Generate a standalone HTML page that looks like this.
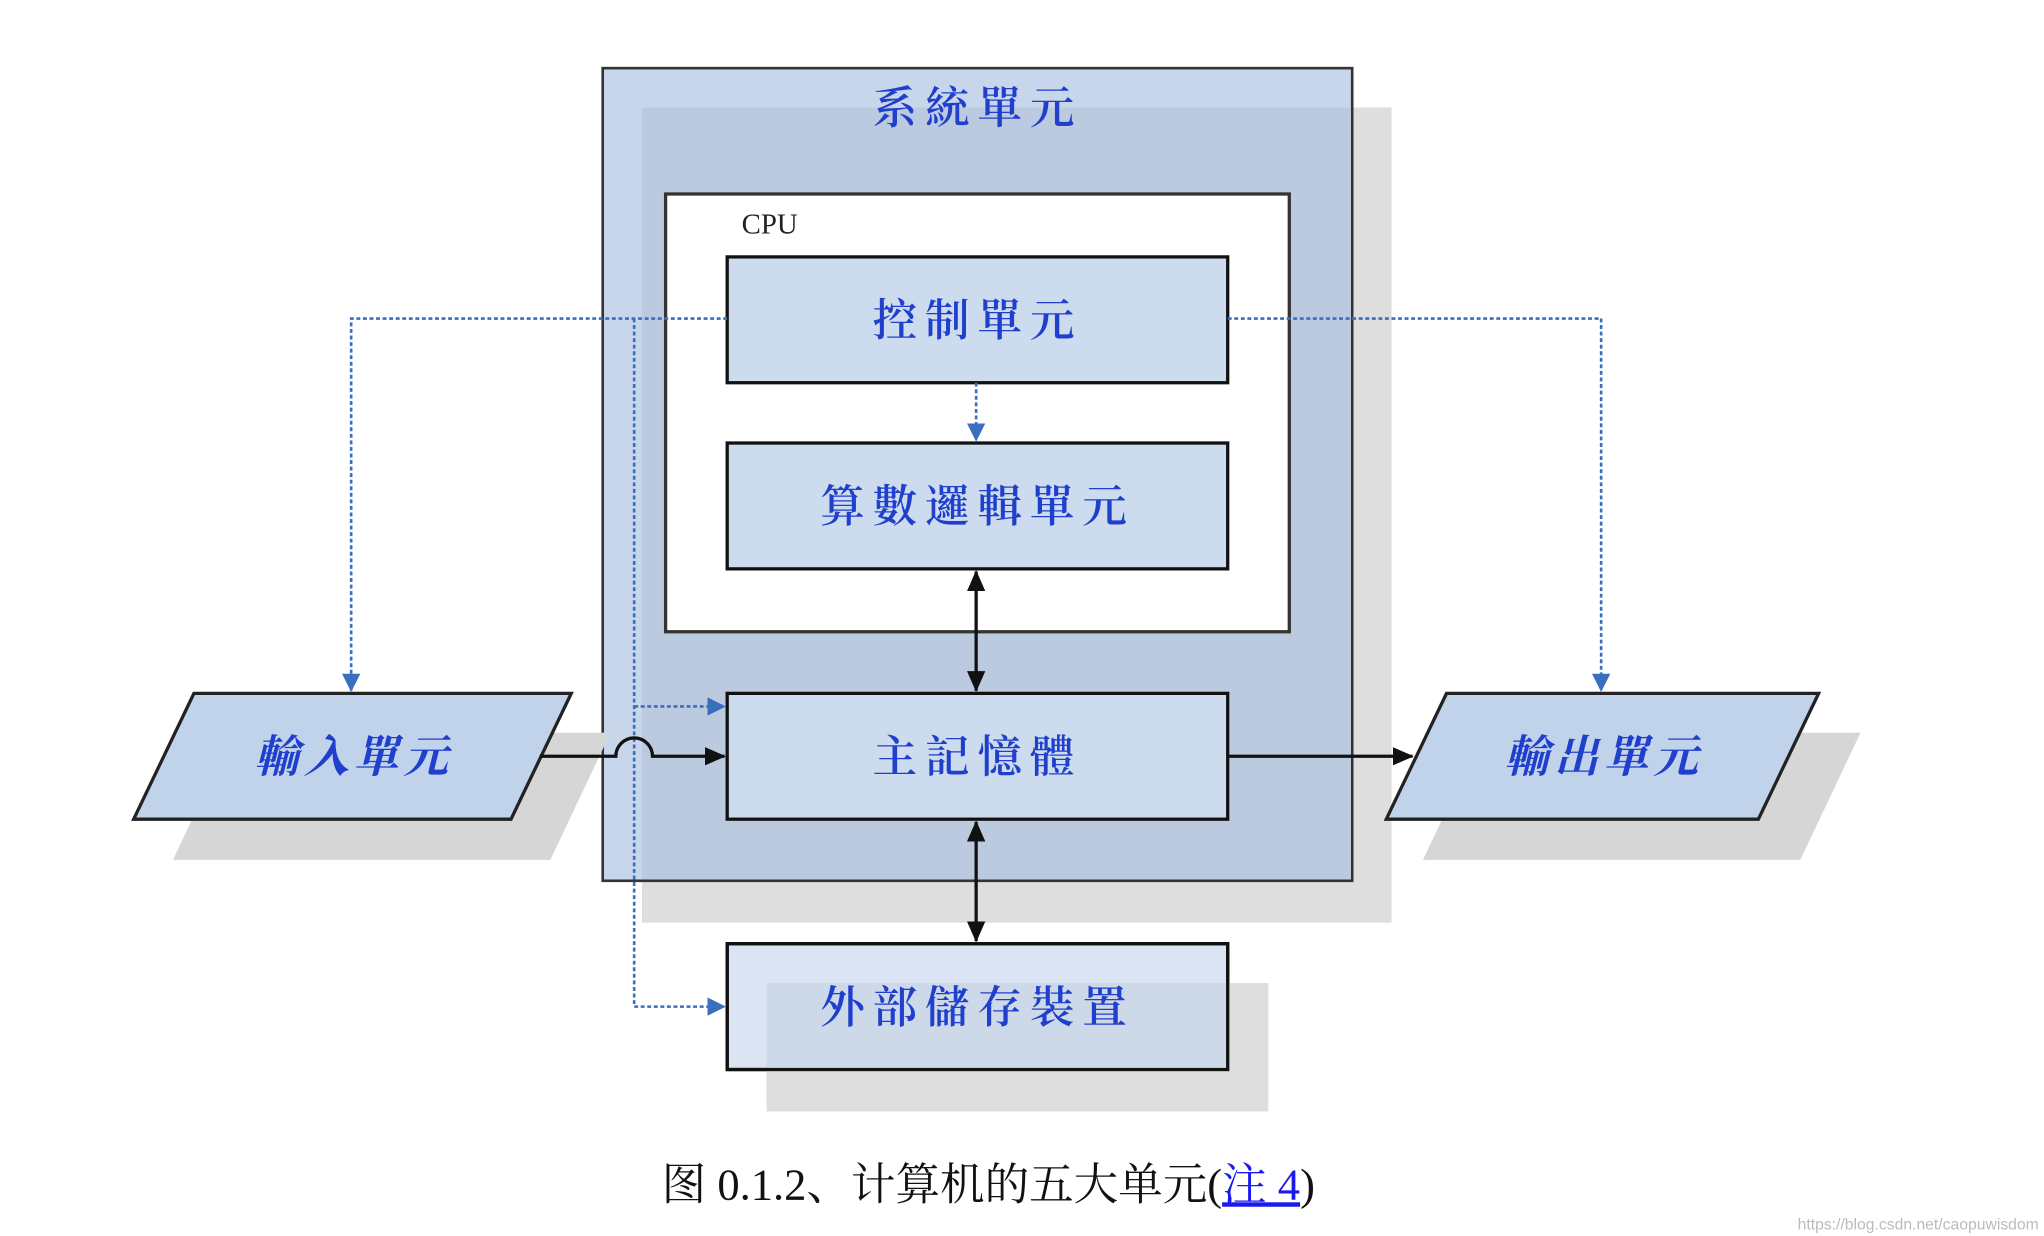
<!DOCTYPE html>
<html><head><meta charset="utf-8"><style>
html,body{margin:0;padding:0;background:#fff;}
svg{display:block;}
</style></head><body>
<svg width="2044" height="1236" viewBox="0 0 1560 943" preserveAspectRatio="none" xmlns="http://www.w3.org/2000/svg">
<defs>
<marker id="ab" markerWidth="14" markerHeight="14" refX="13" refY="7" orient="auto" markerUnits="userSpaceOnUse"><path d="M0,0 L14,7 L0,14 z" fill="#3a6fc0"/></marker>
<marker id="ak" markerWidth="16" markerHeight="14" refX="15" refY="7" orient="auto" markerUnits="userSpaceOnUse"><path d="M0,0 L16,7 L0,14 z" fill="#111"/></marker>
<marker id="aks" markerWidth="16" markerHeight="14" refX="1" refY="7" orient="auto" markerUnits="userSpaceOnUse"><path d="M16,0 L0,7 L16,14 z" fill="#111"/></marker>
</defs>
<g font-family="'Liberation Serif','Noto Serif CJK SC',serif">
<rect x="490" y="82" width="572" height="622" fill="#dedede"/>
<rect x="460" y="52" width="572" height="620" fill="#c8d6ec" stroke="#333" stroke-width="2"/>
<rect x="490" y="82" width="541" height="589" fill="#bccae0"/>
<text x="746" y="94" text-anchor="middle" font-size="34" fill="#1f3fcc" letter-spacing="6" font-weight="600">系統單元</text>
<rect x="508" y="148" width="476" height="334" fill="#fff" stroke="#333" stroke-width="2.5"/>
<text x="566" y="178" font-size="22" fill="#222">CPU</text>
<rect x="555" y="196" width="382" height="96" fill="#cddbee" stroke="#111" stroke-width="2.5"/>
<text x="746" y="256" text-anchor="middle" font-size="34" fill="#1f3fcc" letter-spacing="6" font-weight="600">控制單元</text>
<rect x="555" y="338" width="382" height="96" fill="#cddbee" stroke="#111" stroke-width="2.5"/>
<text x="746" y="398" text-anchor="middle" font-size="34" fill="#1f3fcc" letter-spacing="6" font-weight="600">算數邏輯單元</text>
<rect x="555" y="529" width="382" height="96" fill="#cddbee" stroke="#111" stroke-width="2.5"/>
<text x="746" y="589" text-anchor="middle" font-size="34" fill="#1f3fcc" letter-spacing="6" font-weight="600">主記憶體</text>
<rect x="555" y="720" width="382" height="96" fill="#dbe4f2" stroke="#111" stroke-width="2.5"/>
<rect x="585" y="750" width="383" height="98" fill="#dedede"/>
<rect x="585" y="750" width="351" height="65" fill="#cdd8e8"/>
<rect x="555" y="720" width="382" height="96" fill="none" stroke="#111" stroke-width="2.5"/>
<text x="746" y="780" text-anchor="middle" font-size="34" fill="#1f3fcc" letter-spacing="6" font-weight="600">外部儲存裝置</text>
<polygon points="178,559 466,559 420,656 132,656" fill="#d6d6d6"/>
<polygon points="148,529 436,529 390,625 102,625" fill="#c1d3ea" stroke="#222" stroke-width="2.5"/>
<text x="270" y="589" text-anchor="middle" font-size="34" font-weight="bold" font-style="italic" fill="#1f3fcc" letter-spacing="4">輸入單元</text>
<polygon points="1132,559 1420,559 1374,656 1086,656" fill="#d6d6d6"/>
<polygon points="1104,529 1388,529 1342,625 1058,625" fill="#c1d3ea" stroke="#222" stroke-width="2.5"/>
<text x="1224" y="589" text-anchor="middle" font-size="34" font-weight="bold" font-style="italic" fill="#1f3fcc" letter-spacing="4">輸出單元</text>
<g stroke="#3a6fc0" stroke-width="2" stroke-dasharray="3,2" fill="none">
<polyline points="555,243 268,243 268,527" marker-end="url(#ab)"/>
<polyline points="937,243 1222,243 1222,527" marker-end="url(#ab)"/>
<line x1="745" y1="292" x2="745" y2="336" marker-end="url(#ab)"/>
<polyline points="484,243 484,768 553,768" marker-end="url(#ab)"/>
<polyline points="484,539 553,539" marker-end="url(#ab)"/>
</g>
<g stroke="#111" stroke-width="2.5" fill="none">
<path d="M412,577 L470,577 A14,14 0 0 1 498,577 L553,577" marker-end="url(#ak)"/>
<line x1="937" y1="577" x2="1078" y2="577" marker-end="url(#ak)"/>
<line x1="745" y1="436" x2="745" y2="527" marker-start="url(#aks)" marker-end="url(#ak)"/>
<line x1="745" y1="627" x2="745" y2="718" marker-start="url(#aks)" marker-end="url(#ak)"/>
</g>
<text x="505" y="915" font-size="34" fill="#111">图 0.1.2、计算机的五大单元(<tspan fill="#1a1aee" text-decoration="underline">注 4</tspan>)</text>
<text x="1556" y="938" text-anchor="end" font-family="'Liberation Sans',sans-serif" font-size="12" fill="#bbb">https://blog.csdn.net/caopuwisdom</text>
</g>
</svg>
</body></html>
